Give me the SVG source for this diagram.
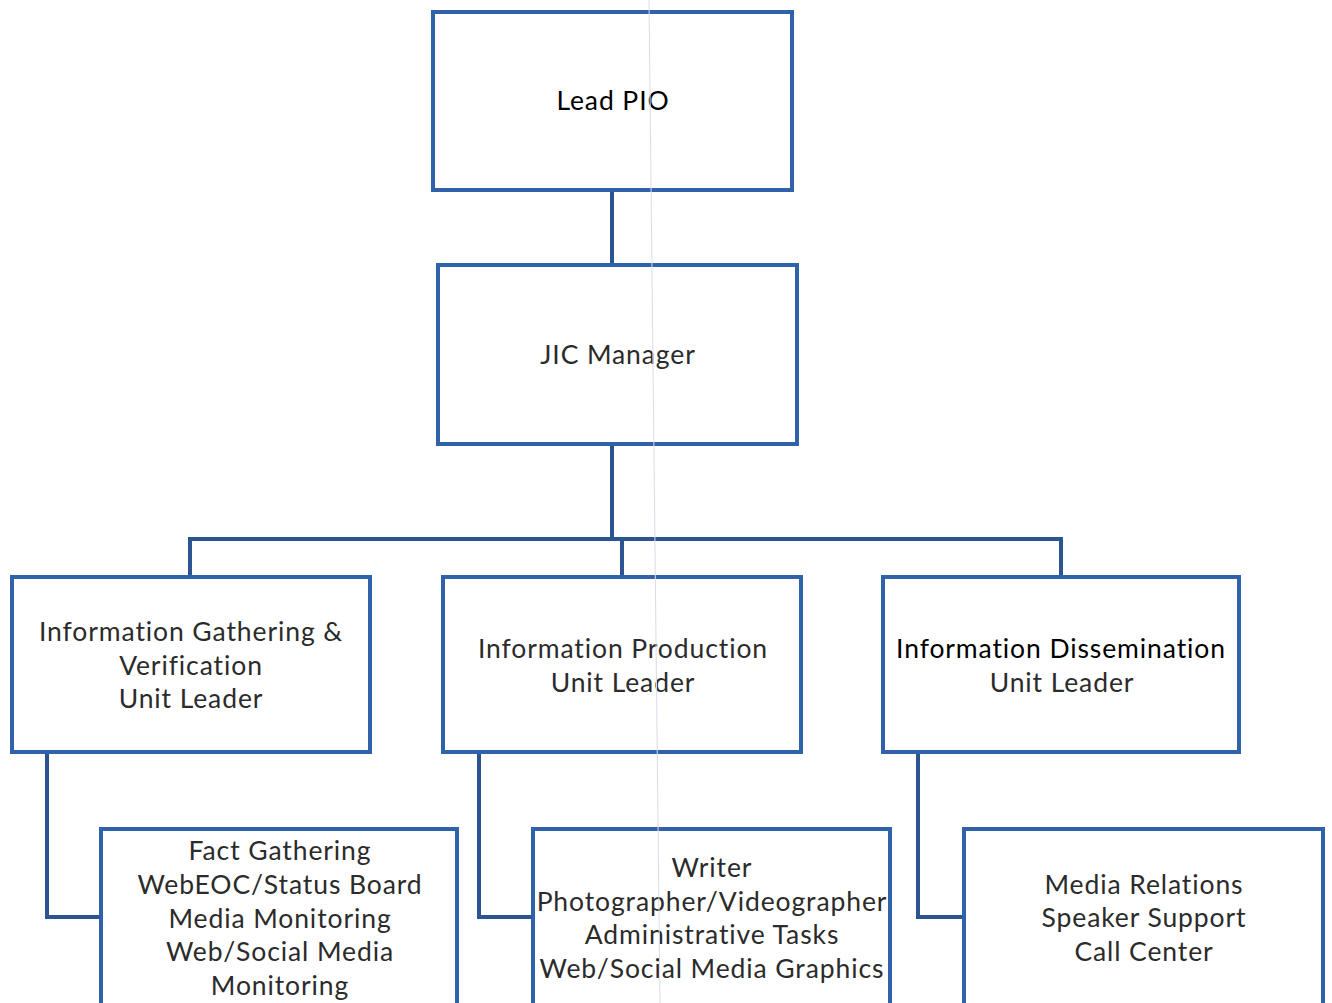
<svg xmlns="http://www.w3.org/2000/svg" width="1332" height="1003" viewBox="0 0 1332 1003">
  <style>
    .box { fill: #ffffff; stroke: #2f62a8; stroke-width: 4; }
    .link { fill: none; stroke: #2c5490; stroke-width: 4; stroke-linejoin: miter; }
    .label { font-family: Lato, "Liberation Sans", sans-serif; font-size: 26.5px; letter-spacing: 0.9px; fill: #2b2b2b; text-anchor: middle; }
    .dark { fill: #000000; }
    .fold { stroke: #dcdae8; stroke-width: 1; }
  </style>
  <rect width="1332" height="1003" fill="#ffffff"/>

  <!-- connectors -->
  <g id="connectors">
    <path class="link" d="M612 190 V265"/>
    <path class="link" d="M612 444 V539"/>
    <path class="link" d="M190 577 V539 H1061 V577"/>
    <path class="link" d="M622 539 V577"/>
    <path class="link" d="M47 752 V917 H101"/>
    <path class="link" d="M479 752 V917 H533"/>
    <path class="link" d="M918 752 V917 H964"/>
  </g>

  <g id="lead-pio">
    <rect class="box" x="433" y="12" width="359" height="178"/>
    <text class="label dark" x="613" y="110">Lead PIO</text>
  </g>

  <g id="jic-manager">
    <rect class="box" x="438" y="265" width="359" height="179"/>
    <text class="label" x="618" y="364">JIC Manager</text>
  </g>

  <g id="info-gathering">
    <rect class="box" x="12" y="577" width="358" height="175"/>
    <text class="label" x="191" y="641">Information Gathering &amp;</text>
    <text class="label" x="191" y="675">Verification</text>
    <text class="label" x="191" y="708">Unit Leader</text>
  </g>

  <g id="info-production">
    <rect class="box" x="443" y="577" width="358" height="175"/>
    <text class="label" x="623" y="658">Information Production</text>
    <text class="label" x="623" y="692">Unit Leader</text>
  </g>

  <g id="info-dissemination">
    <rect class="box" x="883" y="577" width="356" height="175"/>
    <text class="label dark" x="1061" y="658">Information Dissemination</text>
    <text class="label" x="1062" y="692">Unit Leader</text>
  </g>

  <g id="gathering-tasks">
    <rect class="box" x="101" y="829" width="356" height="190"/>
    <text class="label" x="280" y="860">Fact Gathering</text>
    <text class="label" x="280" y="894">WebEOC/Status Board</text>
    <text class="label" x="280" y="928">Media Monitoring</text>
    <text class="label" x="280" y="961">Web/Social Media</text>
    <text class="label" x="280" y="995">Monitoring</text>
  </g>

  <g id="production-tasks">
    <rect class="box" x="533" y="829" width="357" height="190"/>
    <text class="label" x="712" y="877">Writer</text>
    <text class="label" x="712" y="911">Photographer/Videographer</text>
    <text class="label" x="712" y="944">Administrative Tasks</text>
    <text class="label" x="712" y="978">Web/Social Media Graphics</text>
  </g>

  <g id="dissemination-tasks">
    <rect class="box" x="964" y="829" width="359" height="190"/>
    <text class="label" x="1144" y="894">Media Relations</text>
    <text class="label" x="1144" y="927">Speaker Support</text>
    <text class="label" x="1144" y="961">Call Center</text>
  </g>

  <!-- paper fold crease -->
  <line class="fold" x1="649" y1="0" x2="660" y2="1003"/>
</svg>
